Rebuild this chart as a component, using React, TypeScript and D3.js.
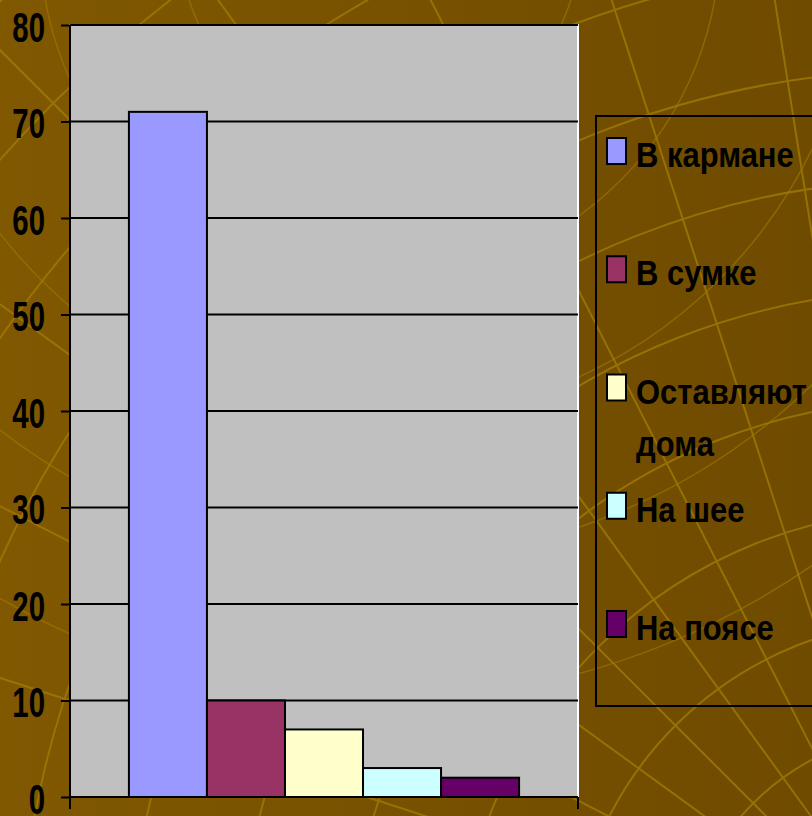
import React, { useEffect, useRef } from "react";
import * as d3 from "d3";

const categories = ["Где носят"];
const seriesNames = ["В кармане", "В сумке", "Оставляют дома", "На шее", "На поясе"];
const seriesValues = [71, 10, 7, 3, 2];
const seriesColors = ["#9999FF", "#993366", "#FFFFCC", "#CCFFFF", "#660066"];
const yTicks = [0, 10, 20, 30, 40, 50, 60, 70, 80];

const W = 812;
const H = 816;
const FONT = "'Liberation Sans', Arial, sans-serif";

export default function App() {
  const svgRef = useRef<SVGSVGElement | null>(null);

  useEffect(() => {
    const svg = d3.select(svgRef.current);
    svg.selectAll("*").remove();

    // background
    const defs = svg.append("defs");
    const grad = defs
      .append("linearGradient")
      .attr("id", "bg")
      .attr("x1", "0")
      .attr("x2", "1")
      .attr("y1", "0")
      .attr("y2", "0");
    grad.append("stop").attr("offset", "0").attr("stop-color", "#805800");
    grad.append("stop").attr("offset", "1").attr("stop-color", "#6f4b00");
    svg.append("rect").attr("width", W).attr("height", H).attr("fill", "url(#bg)");

    // decorative mesh lines
    const deco = svg.append("g").attr("fill", "none").attr("stroke", "#a07a05").attr("stroke-width", 2).attr("opacity", 0.8);
    const cx = 930, cy = 980;
    d3.range(250, 1500, 110).forEach((r) => {
      deco.append("circle").attr("cx", cx).attr("cy", cy).attr("r", r);
    });
    d3.range(180, 290, 9).forEach((a) => {
      const rad = (a * Math.PI) / 180;
      deco
        .append("line")
        .attr("x1", cx)
        .attr("y1", cy)
        .attr("x2", cx + Math.cos(rad) * 1600)
        .attr("y2", cy + Math.sin(rad) * 1600);
    });
    const deco2 = svg.append("g").attr("fill", "none").attr("stroke", "#a07a05").attr("stroke-width", 1.5).attr("opacity", 0.6);
    d3.range(200, 900, 140).forEach((r) => {
      deco2.append("circle").attr("cx", 380).attr("cy", -60).attr("r", r);
    });

    // plot
    const left = 70, right = 578, top = 25, bottom = 797;
    const y = d3.scaleLinear().domain([0, 80]).range([bottom, top]);
    const x0 = d3.scaleBand().domain(categories).range([left, right]).paddingOuter(0.151).paddingInner(0);
    const x1 = d3.scaleBand().domain(seriesNames).range([0, x0.bandwidth()]).padding(0);

    svg
      .append("rect")
      .attr("x", left)
      .attr("y", top)
      .attr("width", right - left)
      .attr("height", bottom - top)
      .attr("fill", "#C0C0C0")
      .attr("stroke", "#ffffff")
      .attr("stroke-width", 2);

    svg
      .append("g")
      .selectAll("line")
      .data(yTicks.slice(1))
      .join("line")
      .attr("x1", left)
      .attr("x2", right)
      .attr("y1", (d) => y(d))
      .attr("y2", (d) => y(d))
      .attr("stroke", "#000")
      .attr("stroke-width", 2);

    const cat = categories[0];
    svg
      .append("g")
      .selectAll("rect")
      .data(seriesNames)
      .join("rect")
      .attr("x", (d) => (x0(cat) as number) + (x1(d) as number))
      .attr("y", (d, i) => y(seriesValues[i]))
      .attr("width", x1.bandwidth())
      .attr("height", (d, i) => bottom - y(seriesValues[i]))
      .attr("fill", (d, i) => seriesColors[i])
      .attr("stroke", "#000")
      .attr("stroke-width", 2);

    // y axis
    const yAxis = svg
      .append("g")
      .attr("transform", `translate(${left},0)`)
      .call(d3.axisLeft(y).tickValues(yTicks).tickSize(9).tickPadding(0).tickFormat(d3.format("d")));
    yAxis.select(".domain").attr("stroke", "#000").attr("stroke-width", 2).attr("d", `M0,${top}V${bottom}`);
    yAxis.selectAll(".tick line").attr("stroke", "#000").attr("stroke-width", 2);
    yAxis
      .selectAll(".tick text")
      .attr("x", 0)
      .attr("dy", "0.36em")
      .attr("font-family", FONT)
      .attr("font-weight", "bold")
      .attr("font-size", 42)
      .attr("fill", "#000")
      .attr("text-anchor", "end")
      .attr("transform", "translate(-25,1) scale(0.7,1)");

    // x axis
    const xAxis = svg
      .append("g")
      .attr("transform", `translate(0,${bottom})`);
    xAxis
      .append("line")
      .attr("x1", left)
      .attr("x2", right)
      .attr("stroke", "#000")
      .attr("stroke-width", 2);
    xAxis
      .selectAll("line.tk")
      .data([left, right])
      .join("line")
      .attr("class", "tk")
      .attr("x1", (d) => d)
      .attr("x2", (d) => d)
      .attr("y1", 0)
      .attr("y2", 12)
      .attr("stroke", "#000")
      .attr("stroke-width", 2);

    // legend
    const lg = svg.append("g");
    lg.append("rect")
      .attr("x", 596)
      .attr("y", 116)
      .attr("width", 240)
      .attr("height", 590)
      .attr("fill", "none")
      .attr("stroke", "#000")
      .attr("stroke-width", 2);
    const ly = d3.scalePoint().domain(seriesNames).range([151, 624]);
    const items = lg
      .selectAll("g.item")
      .data(seriesNames)
      .join("g")
      .attr("class", "item")
      .attr("transform", (d) => `translate(607,${ly(d)})`);
    items
      .append("rect")
      .attr("x", 0)
      .attr("y", -13)
      .attr("width", 19)
      .attr("height", 26)
      .attr("fill", (d, i) => seriesColors[i])
      .attr("stroke", "#000")
      .attr("stroke-width", 2);
    const sx = 0.86;
    const maxW = 178 / sx;
    items.each(function (d) {
      const t = d3
        .select(this)
        .append("text")
        .attr("transform", `translate(29,16) scale(${sx},1)`)
        .attr("font-family", FONT)
        .attr("font-weight", "bold")
        .attr("font-size", 36)
        .attr("fill", "#000");
      const words = d.split(" ");
      let line: string[] = [];
      let ts = t.append("tspan").attr("x", 0).attr("dy", 0);
      words.forEach((w) => {
        line.push(w);
        ts.text(line.join(" "));
        const node = ts.node() as SVGTSpanElement;
        if (line.length > 1 && node.getComputedTextLength() > maxW) {
          line.pop();
          ts.text(line.join(" "));
          line = [w];
          ts = t.append("tspan").attr("x", 0).attr("dy", 53).text(w);
        }
      });
    });
  }, []);

  return (
    <svg
      ref={svgRef}
      width={W}
      height={H}
      style={{ position: "absolute", left: 0, top: 0, display: "block" }}
    />
  );
}
